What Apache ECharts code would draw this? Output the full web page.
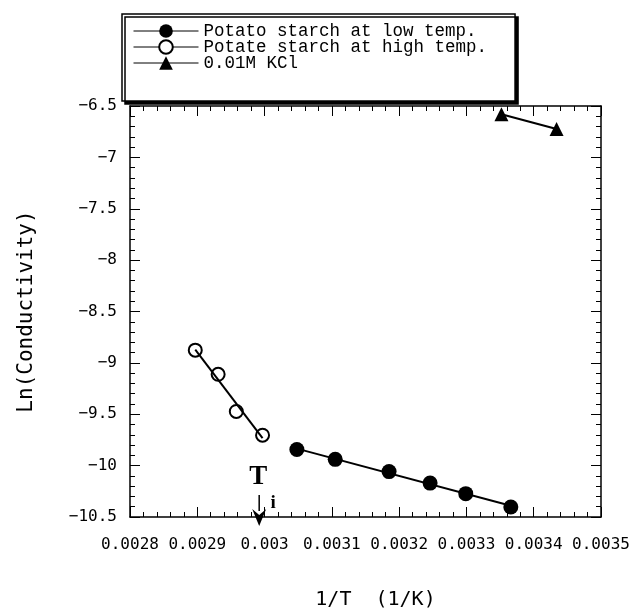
<!DOCTYPE html>
<html>
<head>
<meta charset="utf-8">
<script src="https://cdn.jsdelivr.net/npm/echarts@6/dist/echarts.min.js"></script>
<style>
  html, body { margin: 0; padding: 0; background: #fff; }
  #chart { width: 641px; height: 615px; }
</style>
</head>
<body>
<div id="chart"></div>
<script>
// 1/T (1/K) vs Ln(conductivity)
const lowTempX = [0.003048, 0.003105, 0.003185, 0.003246, 0.003299, 0.003366];
const lowTempY = [-9.843, -9.939, -10.058, -10.170, -10.273, -10.402];
const highTempX = [0.002897, 0.002931, 0.002958, 0.002997];
const highTempY = [-8.876, -9.111, -9.473, -9.704];
const kclX = [0.003352, 0.003434];
const kclY = [-6.58, -6.724];

const seriesNames = ['Potato starch at low temp.', 'Potate starch at high temp.', '0.01M KCl'];
const xRange = [0.0028, 0.0035, 0.0001];
const yRange = [-10.5, -6.5, 0.5];
const transitionX = 0.002992;

const tickFont = 'DejaVu Sans Mono';

const toPoints = (xs, ys) => xs.map((x, i) => [x, ys[i]]);

// least squares line drawn between the first and last x
const fitLine = (xs, ys) => {
  const n = xs.length;
  const mx = xs.reduce((a, b) => a + b, 0) / n;
  const my = ys.reduce((a, b) => a + b, 0) / n;
  let sxy = 0, sxx = 0;
  xs.forEach((x, i) => {
    sxy += (x - mx) * (ys[i] - my);
    sxx += (x - mx) * (x - mx);
  });
  const slope = sxy / sxx;
  const x0 = Math.min(...xs), x1 = Math.max(...xs);
  return [[x0, my + slope * (x0 - mx)], [x1, my + slope * (x1 - mx)]];
};

const minus = (v) => String(v).replace('-', '\u2212');

const baseAxis = {
  type: 'value',
  axisLine: { onZero: false, lineStyle: { color: '#000', width: 1.5 } },
  axisTick: { inside: true, length: 10, lineStyle: { color: '#000', width: 1 } },
  minorTick: { show: true, splitNumber: 5, length: 5, lineStyle: { color: '#000', width: 1 } },
  splitLine: { show: false },
  minorSplitLine: { show: false }
};

const chart = echarts.init(document.getElementById('chart'), null, { renderer: 'canvas' });

const option = {
  animation: false,
  backgroundColor: '#fff',
  grid: { left: 130, right: 40, top: 106, bottom: 94 },
  legend: {
    orient: 'vertical',
    left: 122,
    top: 14,
    padding: [8, 28, 29, 11],
    itemWidth: 65,
    itemHeight: 17,
    itemGap: -2,
    backgroundColor: '#fff',
    borderColor: '#000',
    borderWidth: 1.5,
    borderRadius: 0,
    shadowColor: '#000',
    shadowBlur: 0,
    shadowOffsetX: 3,
    shadowOffsetY: 3,
    textStyle: { fontFamily: 'Liberation Mono', fontSize: 17.5, color: '#000' },
    data: seriesNames.map(name => ({
      name,
      lineStyle: { opacity: 1, width: 1, color: '#000' }
    }))
  },
  xAxis: [
    Object.assign({}, baseAxis, {
      position: 'bottom',
      min: xRange[0], max: xRange[1], interval: xRange[2],
      name: '1/T  (1/K)',
      nameLocation: 'middle',
      nameGap: 73,
      nameTextStyle: { fontFamily: tickFont, fontSize: 20, color: '#000', padding: [0, 0, 0, 20] },
      axisLabel: { margin: 20, fontFamily: tickFont, fontSize: 16, color: '#000' }
    }),
    Object.assign({}, baseAxis, {
      position: 'top',
      min: xRange[0], max: xRange[1], interval: xRange[2],
      axisLabel: { show: false }
    })
  ],
  yAxis: [
    Object.assign({}, baseAxis, {
      position: 'left',
      min: yRange[0], max: yRange[1], interval: yRange[2],
      name: 'Ln(Conductivity)',
      nameLocation: 'middle',
      nameGap: 93,
      nameTextStyle: { fontFamily: tickFont, fontSize: 21, color: '#000' },
      axisLabel: { margin: 13, fontFamily: tickFont, fontSize: 16, color: '#000', formatter: minus }
    }),
    Object.assign({}, baseAxis, {
      position: 'right',
      min: yRange[0], max: yRange[1], interval: yRange[2],
      axisLabel: { show: false }
    })
  ],
  series: [
    {
      name: seriesNames[0],
      type: 'line',
      data: toPoints(lowTempX, lowTempY),
      symbol: 'circle',
      symbolSize: 15,
      itemStyle: { color: '#000' },
      lineStyle: { opacity: 0 },
      z: 3
    },
    {
      name: seriesNames[0],
      type: 'line',
      data: fitLine(lowTempX, lowTempY),
      symbol: 'none',
      lineStyle: { color: '#000', width: 2 },
      z: 2
    },
    {
      name: seriesNames[1],
      type: 'line',
      data: toPoints(highTempX, highTempY),
      symbol: 'emptyCircle',
      symbolSize: 13,
      itemStyle: { color: '#000', borderWidth: 1 },
      lineStyle: { opacity: 0 },
      z: 2
    },
    {
      name: seriesNames[1],
      type: 'line',
      data: fitLine(highTempX, highTempY),
      symbol: 'none',
      lineStyle: { color: '#000', width: 2 },
      z: 3
    },
    {
      name: seriesNames[2],
      type: 'line',
      data: toPoints(kclX, kclY),
      symbol: 'triangle',
      symbolSize: 14,
      itemStyle: { color: '#000' },
      lineStyle: { color: '#000', width: 2 },
      z: 3
    }
  ]
};

chart.setOption(option);

// T_i marker with arrow at the transition point on the bottom axis
const [ax, ay] = chart.convertToPixel({ xAxisIndex: 0, yAxisIndex: 0 }, [transitionX, yRange[0]]);
chart.setOption({
  graphic: [
    {
      type: 'text',
      x: ax - 1, y: ay - 40,
      style: { text: 'T', font: 'bold 27px "Liberation Serif"', fill: '#000', align: 'center', verticalAlign: 'middle' }
    },
    {
      type: 'text',
      x: ax + 14, y: ay - 14,
      style: { text: 'i', font: 'bold 19px "Liberation Serif"', fill: '#000', align: 'center', verticalAlign: 'middle' }
    },
    {
      type: 'line',
      shape: { x1: ax, y1: ay - 22, x2: ax, y2: ay - 6 },
      style: { stroke: '#000', lineWidth: 1.5 }
    },
    {
      type: 'polygon',
      shape: { points: [[ax - 7, ay - 8], [ax, ay - 2], [ax + 7, ay - 8], [ax, ay + 9]] },
      style: { fill: '#000' }
    }
  ]
});
</script>
</body>
</html>
